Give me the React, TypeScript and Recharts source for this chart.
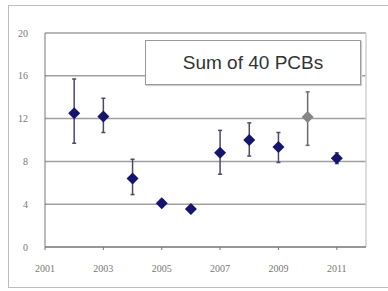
import { CartesianGrid, ComposedChart, ErrorBar, ReferenceLine, Scatter, XAxis, YAxis } from 'recharts';

const years = [2002, 2003, 2004, 2005, 2006, 2007, 2008, 2009, 2011];
const sums = [12.5, 12.2, 6.4, 4.1, 3.55, 8.8, 10.0, 9.35, 8.3];
const lows = [9.7, 10.7, 4.9, 3.8, 3.3, 6.8, 8.5, 7.9, 7.8];
const highs = [15.7, 13.9, 8.2, 4.4, 3.8, 10.9, 11.6, 10.7, 8.8];

const grayYears = [2010];
const graySums = [12.15];
const grayLows = [9.5];
const grayHighs = [14.5];

const xTicks = [2001, 2003, 2005, 2007, 2009, 2011];
const yTicks = [0, 4, 8, 12, 16, 20];

const toRows = (xs: number[], ys: number[], lo: number[], hi: number[]) =>
  xs.map((x, i) => ({ year: x, value: ys[i], err: [ys[i] - lo[i], hi[i] - ys[i]] }));

const Diamond = (props: any) => {
  const { cx, cy, fill } = props;
  const r = 6;
  return <polygon points={`${cx},${cy - r} ${cx + r},${cy} ${cx},${cy + r} ${cx - r},${cy}`} fill={fill} />;
};

export default function App() {
  const main = toRows(years, sums, lows, highs);
  const gray = toRows(grayYears, graySums, grayLows, grayHighs);

  return (
    <div style={{ position: 'absolute', left: 0, top: 0, width: 388, height: 291, background: '#fff' }}>
      <div
        style={{
          position: 'absolute', left: 8, top: 5, width: 386, height: 283,
          border: '1.5px solid #bdbdbd', borderRight: 'none', boxSizing: 'border-box',
        }}
      />
      <ComposedChart width={388} height={291} margin={{ top: 33, right: 22, bottom: 14, left: 10 }}>
        <CartesianGrid vertical={false} stroke="#a0a0a0" strokeWidth={1.5} />
        <XAxis
          type="number"
          dataKey="year"
          domain={[2001, 2012]}
          ticks={xTicks}
          allowDataOverflow
          stroke="#777"
          tickSize={3}
          tickMargin={15}
          tick={{ fill: '#777', fontSize: 10, fontFamily: 'Liberation Serif' }}
        />
        <YAxis
          type="number"
          domain={[0, 20]}
          ticks={yTicks}
          width={35}
          stroke="#777"
          tickLine={false}
          tickMargin={11}
          tick={{ fill: '#777', fontSize: 10, fontFamily: 'Liberation Serif' }}
        />
        <ReferenceLine x={2012} stroke="#d0d0d0" strokeWidth={1.5} />
        <Scatter data={gray} dataKey="value" fill="#858585" shape={Diamond} legendType="none" isAnimationActive={false}>
          <ErrorBar dataKey="err" direction="y" stroke="#6a6a6a" strokeWidth={1.5} width={2} />
        </Scatter>
        <Scatter data={main} dataKey="value" fill="#15156e" shape={Diamond} isAnimationActive={false}>
          <ErrorBar dataKey="err" direction="y" stroke="#4a4a66" strokeWidth={1.5} width={2} />
        </Scatter>
      </ComposedChart>
      <div
        style={{
          position: 'absolute', left: 145, top: 40, width: 216, height: 45,
          border: '1.5px solid #9a9a9a', boxSizing: 'border-box', background: '#fff',
          boxShadow: '1px 1px 1px #cfcfcf',
          display: 'flex', alignItems: 'center', justifyContent: 'center',
          fontFamily: 'Liberation Sans', fontSize: 19, color: '#333',
        }}
      >
        Sum of 40 PCBs
      </div>
    </div>
  );
}
